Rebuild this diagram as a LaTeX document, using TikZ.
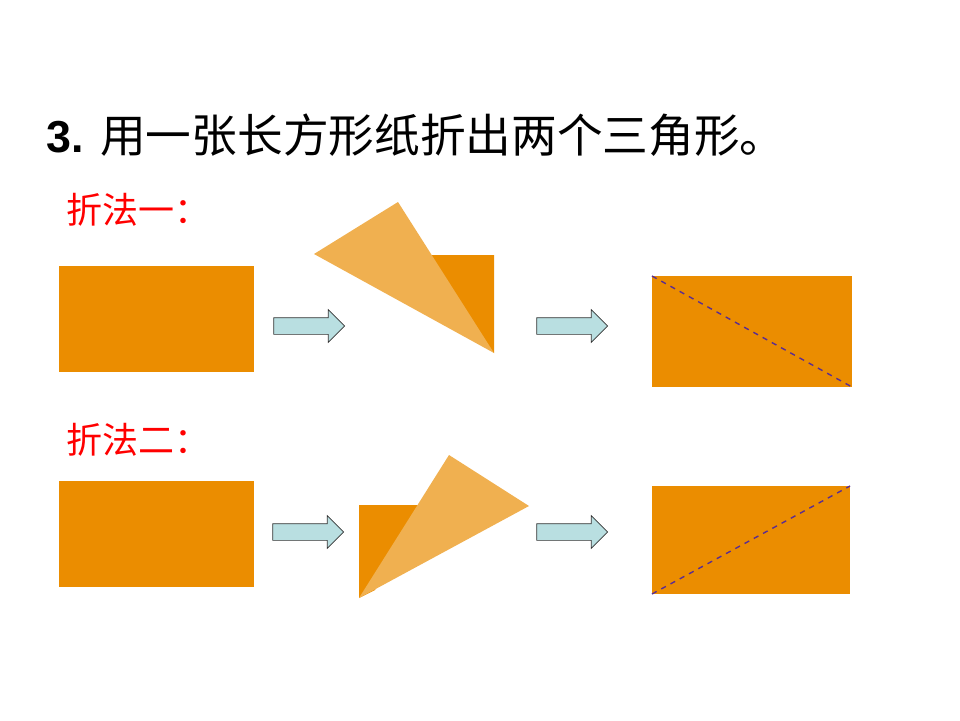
\documentclass[tikz,border=0pt]{standalone}
\usepackage{fontspec}
\setmainfont{Liberation Sans}
\newfontfamily\cjk{Noto Sans CJK SC}
\usetikzlibrary{shapes.arrows}
\definecolor{paper orange}{HTML}{EB8D00}
\definecolor{fold orange}{HTML}{F0B050}
\definecolor{arrow blue}{HTML}{B9DFE1}
\definecolor{crease}{HTML}{5A2D91}
\tikzset{
    paper/.style={fill=paper orange, draw=none},
    flap/.style={fill=fold orange, draw=none},
    creaseline/.style={crease, dashed, thick},
    blockarrow/.style={single arrow, draw=black!80, fill=arrow blue, thin,
        minimum height=1.42cm, inner xsep=0pt, inner ysep=0.16cm,
        single arrow head extend=0.16cm},
    method/.style={text=red, font=\cjk\fontsize{20.5pt}{24pt}\selectfont, anchor=west}
}

\begin{document}
\begin{tikzpicture}[x=0.02cm, y=-0.02cm]
        \useasboundingbox (0, 0) rectangle (960, 720);
        \node[anchor=west, inner sep=0pt] (title) at (46, 135)
            {\fontsize{25.5pt}{30pt}\selectfont\textbf{3.} \cjk\fontsize{26pt}{30pt}\selectfont 用一张长方形纸折出两个三角形。};
        % fold one
        \node[method] (way1) at (60, 210) {折法一：};
        \fill[paper] (59, 266) rectangle (254, 372);
        \node[blockarrow] (arr1) at (305, 326) {};
        \fill[paper] (425, 255) -- (494, 255) -- (494, 353) -- (480, 340) -- cycle;
        \fill[flap] (314, 254) -- (398, 202) -- (494, 353) -- cycle;
        \node[blockarrow] (arr2) at (568, 326) {};
        \fill[paper] (652, 276) rectangle (852, 387);
        \draw[creaseline] (652, 276) -- (852, 387);
        % fold two
        \node[method] (way2) at (60, 440) {折法二：};
        \fill[paper] (59, 481) rectangle (254, 587);
        \node[blockarrow] (arr3) at (304, 532) {};
        \fill[paper] (359, 505) -- (428, 505) -- (375, 590) -- (359, 598) -- cycle;
        \fill[flap] (359, 598) -- (449, 455) -- (529, 506) -- cycle;
        \node[blockarrow] (arr4) at (568, 532) {};
        \fill[paper] (652, 486) rectangle (850, 594);
        \draw[creaseline] (652, 594) -- (850, 486);
    \end{tikzpicture}
\end{document}
